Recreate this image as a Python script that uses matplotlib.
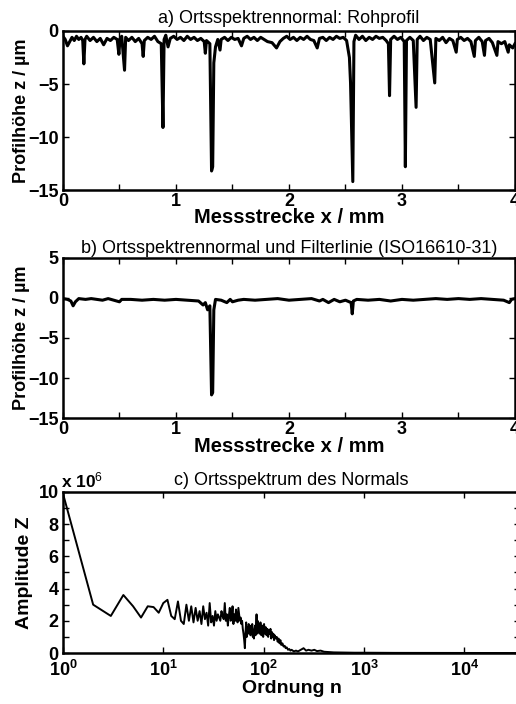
"""
plot.py — Ortsspektrennormal: Rohprofil, gefiltertes Profil und Ortsspektrum.
"""
import matplotlib
matplotlib.use("Agg")
import matplotlib.pyplot as plt
import matplotlib.ticker as mticker
import numpy as np


# ─── Data ────────────────────────────────────────────────────────────────────

# a) Rohprofil: Messstrecke x / mm, Profilhöhe z / µm
x_raw = [0.00, 0.02, 0.04, 0.06, 0.08, 0.10, 0.12, 0.14, 0.16, 0.175, 0.185, 0.195,
         0.21, 0.24, 0.27, 0.30, 0.33, 0.36, 0.39, 0.42, 0.45, 0.48, 0.495, 0.505,
         0.52, 0.545, 0.555, 0.58, 0.61, 0.64, 0.67, 0.70, 0.71, 0.72, 0.75, 0.78,
         0.81, 0.84, 0.87, 0.885, 0.895, 0.91, 0.93, 0.95, 0.98, 1.01, 1.04, 1.07,
         1.10, 1.13, 1.16, 1.19, 1.22, 1.25, 1.26, 1.27, 1.30, 1.315, 1.325, 1.335,
         1.35, 1.37, 1.39, 1.40, 1.43, 1.46, 1.49, 1.52, 1.55, 1.58, 1.60, 1.63,
         1.66, 1.69, 1.72, 1.75, 1.78, 1.81, 1.85, 1.89, 1.92, 1.95, 1.98, 2.01,
         2.04, 2.07, 2.10, 2.13, 2.16, 2.19, 2.22, 2.25, 2.27, 2.30, 2.33, 2.36,
         2.39, 2.42, 2.45, 2.48, 2.51, 2.535, 2.545, 2.565, 2.575, 2.59, 2.62, 2.65,
         2.68, 2.71, 2.74, 2.77, 2.80, 2.83, 2.86, 2.88, 2.89, 2.90, 2.93, 2.96,
         2.99, 3.02, 3.03, 3.04, 3.07, 3.10, 3.125, 3.135, 3.16, 3.19, 3.22, 3.25,
         3.29, 3.30, 3.33, 3.36, 3.39, 3.42, 3.45, 3.48, 3.49, 3.52, 3.55, 3.58,
         3.61, 3.64, 3.65, 3.68, 3.71, 3.73, 3.74, 3.77, 3.80, 3.84, 3.85, 3.88,
         3.91, 3.94, 3.95, 3.98, 4.00]
z_raw = [-0.5, -0.8, -1.4, -1.0, -0.6, -0.9, -0.5, -0.8, -0.6, -0.9, -3.1, -0.8,
         -0.5, -0.9, -0.6, -1.0, -0.7, -1.3, -0.7, -0.9, -0.6, -0.8, -2.2, -0.7,
         -0.5, -3.7, -0.6, -0.9, -0.6, -1.0, -0.7, -1.2, -2.4, -0.9, -0.6, -0.8,
         -0.5, -1.0, -1.2, -9.1, -0.8, -0.4, -1.5, -0.7, -0.5, -0.8, -0.6, -0.9,
         -0.5, -0.8, -0.6, -0.9, -0.7, -1.0, -2.1, -0.9, -1.2, -13.2, -12.8, -3.0,
         -1.5, -0.8, -1.8, -0.8, -0.6, -0.9, -0.6, -0.8, -0.7, -1.4, -0.7, -0.5,
         -0.8, -0.6, -0.9, -0.6, -0.8, -1.0, -1.1, -1.6, -1.0, -0.7, -0.5, -0.8,
         -0.6, -0.9, -0.6, -0.8, -0.5, -0.8, -0.9, -1.6, -0.7, -0.6, -0.9, -0.6,
         -0.8, -0.5, -0.7, -0.6, -0.9, -2.5, -4.9, -14.2, -1.0, -0.4, -0.8, -0.5,
         -0.9, -0.6, -0.8, -0.5, -0.7, -0.6, -0.9, -1.2, -6.1, -0.8, -0.5, -0.8,
         -0.6, -1.0, -12.8, -0.9, -0.6, -0.9, -7.2, -0.8, -0.5, -0.9, -0.6, -0.8,
         -4.9, -0.7, -0.9, -0.6, -1.1, -0.7, -0.9, -2.0, -0.8, -0.6, -0.9, -0.7,
         -1.0, -2.4, -0.9, -0.6, -1.0, -2.3, -0.9, -0.7, -1.1, -2.3, -1.0, -1.2,
         -1.0, -2.0, -1.3, -1.6, -1.2]

# b) gefiltertes Profil (ISO 16610-31)
x_filt = [0.00, 0.04, 0.07, 0.09, 0.11, 0.14, 0.20, 0.25, 0.30, 0.35, 0.40, 0.45,
          0.50, 0.52, 0.60, 0.70, 0.80, 0.90, 1.00, 1.10, 1.20, 1.24, 1.26, 1.28,
          1.30, 1.315, 1.325, 1.335, 1.35, 1.40, 1.45, 1.48, 1.50, 1.55, 1.60, 1.70,
          1.80, 1.90, 2.00, 2.10, 2.20, 2.27, 2.30, 2.35, 2.40, 2.45, 2.50, 2.55,
          2.56, 2.57, 2.60, 2.70, 2.80, 2.90, 3.00, 3.10, 3.20, 3.30, 3.40, 3.50,
          3.60, 3.70, 3.80, 3.90, 3.95, 3.97, 4.00]
z_filt = [-0.1, -0.2, -0.4, -1.0, -0.5, -0.1, -0.2, -0.1, -0.2, -0.3, -0.1, -0.3,
          -0.5, -0.2, -0.2, -0.3, -0.2, -0.3, -0.2, -0.3, -0.4, -0.9, -0.6, -1.5,
          -1.0, -12.1, -11.8, -1.5, -0.2, -0.3, -0.6, -0.2, -0.5, -0.3, -0.2, -0.3,
          -0.2, -0.1, -0.3, -0.2, -0.1, -0.4, -0.2, -0.6, -0.2, -0.5, -0.3, -0.6,
          -2.0, -0.4, -0.2, -0.3, -0.2, -0.4, -0.2, -0.3, -0.2, -0.1, -0.2, -0.1,
          -0.2, -0.1, -0.2, -0.3, -0.6, -0.2, -0.1]

# c) Ortsspektrum: Ordnung n, Amplitude Z (in 1e6)
n_spec = list(range(1, 91)) + [
    91, 93, 95, 97, 99, 101, 103, 105, 107, 109, 111, 113, 115, 117, 119, 121,
    123, 125, 127, 129, 132, 135, 138, 141, 144, 147, 150, 154, 158, 162, 166,
    170, 175, 180, 185, 190, 200, 210, 220, 235, 250, 265, 280, 300, 320, 340,
    370, 400, 450, 500, 600, 800, 1000, 2000, 5000, 10000, 36000]
amp_spec = [
    9.9, 3.0, 2.3, 3.6, 2.9, 2.2, 2.9, 2.85, 2.5, 3.1,
    3.3, 2.3, 2.1, 3.2, 2.0, 1.8, 3.0, 2.0, 2.9, 1.9,
    2.8, 2.0, 2.6, 1.8, 2.9, 2.1, 2.5, 1.7, 3.1, 1.9,
    2.3, 1.7, 2.6, 2.0, 2.4, 2.2, 2.0, 2.6, 2.3, 2.1,
    3.1, 2.0, 2.4, 1.7, 2.3, 2.8, 2.0, 2.2, 2.9, 1.8,
    2.4, 2.0, 2.7, 2.2, 1.9, 2.8, 2.4, 2.0, 2.2, 1.8,
    2.0, 1.5, 1.2, 0.8, 0.3, 1.3, 1.9, 1.0, 1.6, 1.2,
    1.8, 1.3, 1.7, 1.1, 1.5, 1.3, 1.8, 1.0, 1.4, 0.9,
    1.5, 1.7, 1.1, 1.6, 2.4, 1.2, 2.0, 1.4, 1.8, 1.5,
    1.2, 1.9, 1.1, 1.7, 1.0, 1.8, 1.2, 1.6, 1.1, 1.5,
    1.0, 1.4, 1.2, 1.5, 0.9, 1.3, 1.0, 1.2, 0.8, 1.1,
    0.9, 1.0, 0.7, 0.9, 0.6, 0.8, 0.5, 0.6, 0.4, 0.45,
    0.3, 0.35, 0.2, 0.25, 0.15, 0.2, 0.1, 0.15, 0.1, 0.2,
    0.3, 0.15, 0.2, 0.15, 0.2, 0.12, 0.15, 0.08, 0.06, 0.04,
    0.03, 0.02, 0.02, 0.01, 0.01, 0.005, 0.0]

# ─── Style ───────────────────────────────────────────────────────────────────

FONT = "Liberation Sans"
plt.rcParams.update({
    "font.family": FONT,
    "mathtext.fontset": "custom",
    "mathtext.rm": FONT,
    "mathtext.it": FONT,
    "mathtext.bf": FONT + ":bold",
    "axes.linewidth": 1.8,
    "xtick.direction": "in",
    "ytick.direction": "in",
    "xtick.top": True,
    "ytick.right": True,
    "xtick.major.size": 4,
    "ytick.major.size": 4,
    "xtick.minor.size": 4,
    "ytick.minor.size": 4,
    "xtick.major.width": 1.0,
    "ytick.major.width": 1.0,
    "xtick.minor.width": 1.0,
    "ytick.minor.width": 1.0,
    "xtick.major.pad": 2,
    "ytick.major.pad": 3,
    "xtick.labelsize": 13,
    "ytick.labelsize": 13,
})

XLABEL_KW = dict(fontsize=14.5, fontweight="bold")
YLABEL_KW = dict(fontsize=13, fontweight="bold")

fig = plt.figure(figsize=(5.16, 7.04), dpi=100)
L, R = 0.122, 0.998
ax_a = fig.add_axes([L, 0.730, R - L, 0.226])
ax_b = fig.add_axes([L, 0.406, R - L, 0.228])
ax_c = fig.add_axes([L, 0.0724, R - L + 0.01, 0.229])


def style_profile(ax):
    ax.set_xlim(0, 4)
    ax.set_xticks([0, 1, 2, 3, 4])
    ax.xaxis.set_minor_locator(mticker.FixedLocator([0.5, 1.5, 2.5, 3.5]))
    ax.set_xlabel("Messstrecke x / mm", labelpad=-1, **XLABEL_KW)
    ax.set_ylabel("Profilhöhe z / µm", labelpad=-1, **YLABEL_KW)
    for lab in ax.get_xticklabels() + ax.get_yticklabels():
        lab.set_fontweight("bold")


# a)
ax_a.plot(x_raw, z_raw, color="black", lw=2.2)
ax_a.set_ylim(-15, 0)
ax_a.set_yticks([-15, -10, -5, 0])
ax_a.set_title("a) Ortsspektrennormal: Rohprofil", fontsize=13, pad=6)
style_profile(ax_a)

# b)
ax_b.plot(x_filt, z_filt, color="black", lw=2.2)
ax_b.set_ylim(-15, 5)
ax_b.set_yticks([-15, -10, -5, 0, 5])
ax_b.set_title("b) Ortsspektrennormal und Filterlinie (ISO16610-31)", fontsize=13, pad=3)
style_profile(ax_b)

# c)
ax_c.plot(n_spec, amp_spec, color="black", lw=1.4)
ax_c.set_xscale("log")
ax_c.set_xlim(1, 3.6e4)
ax_c.set_ylim(0, 10)
ax_c.xaxis.set_major_locator(mticker.FixedLocator([1, 10, 100, 1000, 10000]))
ax_c.xaxis.set_minor_locator(mticker.NullLocator())
ax_c.xaxis.set_major_formatter(
    mticker.FuncFormatter(lambda v, p: r"$\mathbf{10^{%d}}$" % round(np.log10(v))))
ax_c.tick_params(axis="x", pad=5)
ax_c.set_yticks([0, 2, 4, 6, 8, 10])
ax_c.yaxis.set_minor_locator(mticker.FixedLocator([1, 3, 5, 7, 9]))
for lab in ax_c.get_yticklabels():
    lab.set_fontweight("bold")
ax_c.set_title("c) Ortsspektrum des Normals", fontsize=13, pad=5)
ax_c.set_xlabel("Ordnung n", labelpad=0, fontsize=14, fontweight="bold")
ax_c.set_ylabel("Amplitude Z", labelpad=4, fontsize=14, fontweight="bold")
ax_c.text(-0.005, 1.01, r"x 10$^{6}$", transform=ax_c.transAxes,
          ha="left", va="bottom", fontsize=12.5, fontweight="bold")

fig.savefig("out.png", dpi=100)
